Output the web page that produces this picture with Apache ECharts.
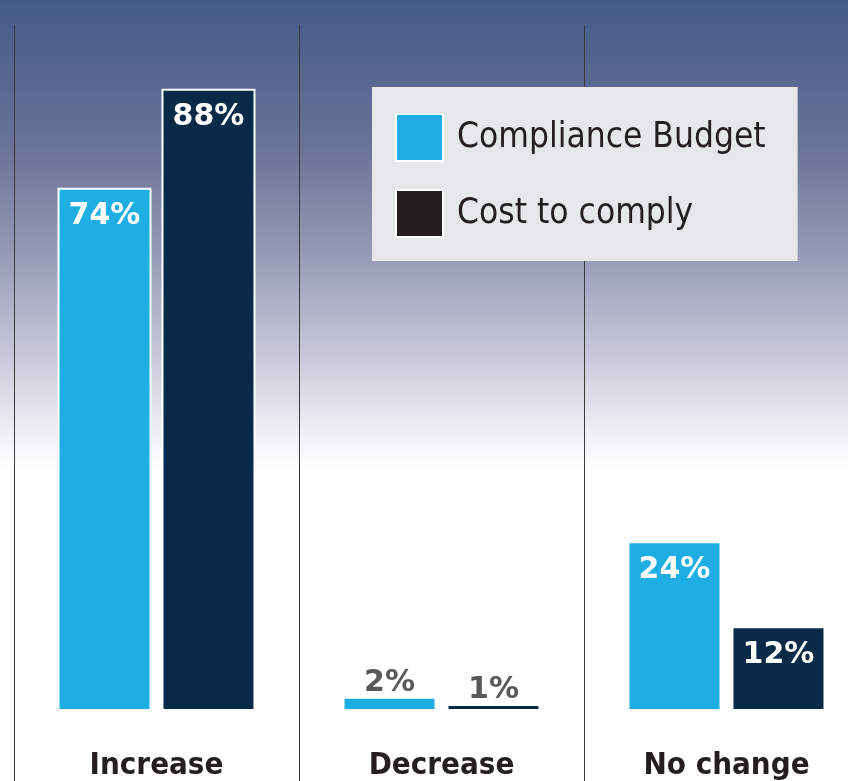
<html>
    <head>
        <meta charset="utf-8">
        <script src="https://cdn.jsdelivr.net/npm/echarts@6/dist/echarts.min.js"></script>
        <style>
            html, body { margin: 0; padding: 0; }
            #main { width: 848px; height: 781px; }
        </style>
    </head>
    <body>
        <div id="main"></div>
        <script>
            var categories = ['Increase', 'Decrease', 'No change'];
            var budget = [74, 2, 24];
            var cost = [88, 1, 12];
            var seriesNames = ['Compliance Budget', 'Cost to comply'];

            var narrow = "'Liberation Sans Narrow', 'DejaVu Sans Condensed', sans-serif";

            // small bars get their label above the bar in grey
            function toData(values) {
                return values.map(function (v) {
                    if (v < 5) {
                        return {
                            value: v,
                            label: { position: 'top', distance: -1, color: '#58595b' }
                        };
                    }
                    return v;
                });
            }

            var barLabel = {
                show: true,
                position: 'insideTop',
                distance: 14,
                color: '#fff',
                fontFamily: 'DejaVu Sans',
                fontWeight: 'bold',
                fontSize: 30,
                formatter: '{c}%'
            };

            var chart = echarts.init(document.getElementById('main'));

            chart.setOption({
                backgroundColor: {
                    type: 'linear', x: 0, y: 0, x2: 0, y2: 1,
                    colorStops: [
                        { offset: 0, color: '#435a87' },
                        { offset: 0.19, color: '#6b7397' },
                        { offset: 0.32, color: '#9498b5' },
                        { offset: 0.45, color: '#c5c7d8' },
                        { offset: 0.55, color: '#eeeef3' },
                        { offset: 0.6, color: '#ffffff' },
                        { offset: 1, color: '#ffffff' }
                    ]
                },
                animation: false,
                legend: {
                    orient: 'vertical',
                    left: 372,
                    top: 87,
                    icon: 'rect',
                    itemWidth: 47,
                    itemHeight: 47,
                    itemGap: 27,
                    padding: [26, 32, 23, 23],
                    backgroundColor: '#e6e7e8',
                    textStyle: {
                        fontFamily: narrow,
                        fontSize: 35,
                        color: '#231f20',
                        padding: [0, 0, 0, 9]
                    },
                    data: [
                        { name: seriesNames[0], itemStyle: { color: '#1eaee4' } },
                        { name: seriesNames[1], itemStyle: { color: '#231f20' } }
                    ]
                },
                grid: {
                    left: 14,
                    width: 855,
                    top: 25,
                    bottom: 70,
                    outerBoundsMode: 'none'
                },
                xAxis: {
                    type: 'category',
                    data: categories,
                    axisLine: { show: false },
                    axisTick: {
                        show: true,
                        length: 70,
                        lineStyle: { color: '#3a3a3a', width: 1 }
                    },
                    splitLine: {
                        show: true,
                        lineStyle: { color: '#3a3a3a', width: 1 }
                    },
                    axisLabel: {
                        margin: 39,
                        fontFamily: narrow,
                        fontWeight: 'bold',
                        fontSize: 31,
                        color: '#231f20'
                    }
                },
                yAxis: {
                    type: 'value',
                    min: 0,
                    max: 97,
                    show: false,
                    splitLine: { show: false }
                },
                series: [
                    {
                        name: seriesNames[0],
                        type: 'bar',
                        data: toData(budget),
                        barWidth: 94,
                        barGap: '10.6%',
                        itemStyle: { color: '#1eaee4', borderColor: '#fff', borderWidth: 2 },
                        label: barLabel
                    },
                    {
                        name: seriesNames[1],
                        type: 'bar',
                        data: toData(cost),
                        barWidth: 94,
                        itemStyle: { color: '#062a47', borderColor: '#fff', borderWidth: 2 },
                        label: barLabel
                    }
                ]
            });
        </script>
    </body>
</html>
